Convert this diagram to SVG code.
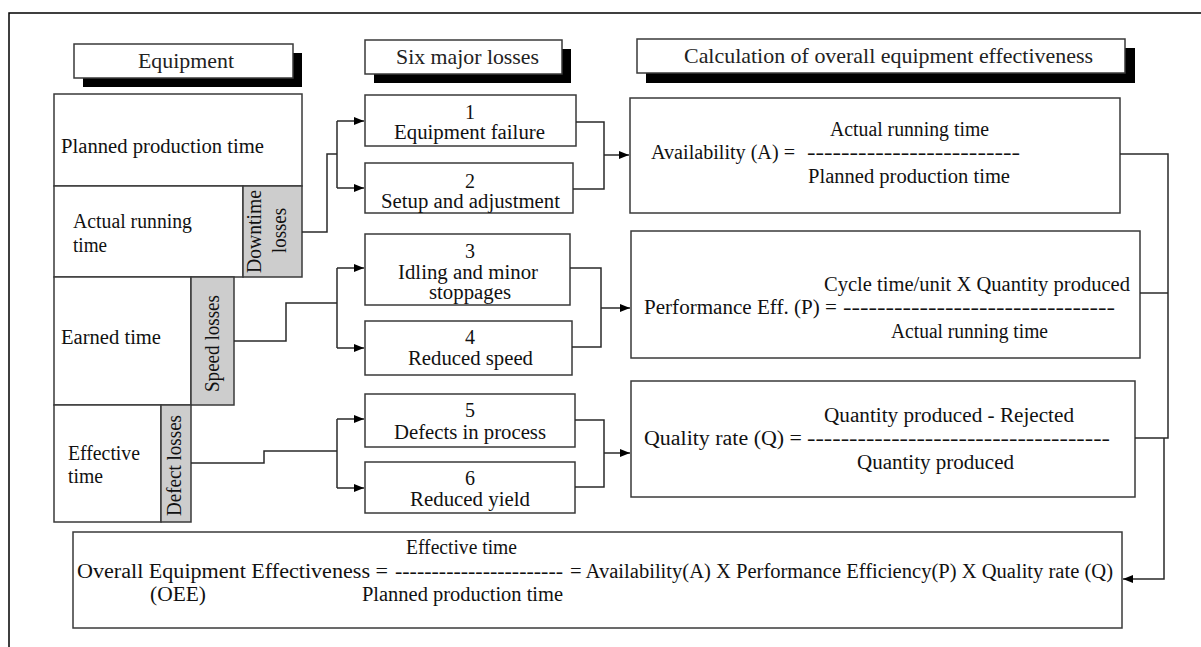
<svg xmlns="http://www.w3.org/2000/svg" width="1201" height="647" viewBox="0 0 1201 647" font-family="'Liberation Serif', 'Times New Roman', serif">
<defs>
<style>
text{font-family:'Liberation Serif','Times New Roman',serif;font-size:20px;fill:#111}
.hd{font-size:21px;fill:#222}
.box{fill:#fff;stroke:#3a3a3a;stroke-width:1.5}
.gray{fill:#cdcdcd;stroke:#3a3a3a;stroke-width:1.5}
.shadow{fill:#000}
.ln{fill:none;stroke:#2a2a2a;stroke-width:1.5}
.c{text-anchor:middle}
</style>
<marker id="arr" viewBox="0 0 10 10" refX="10" refY="5" markerWidth="10" markerHeight="10" markerUnits="userSpaceOnUse" orient="auto">
<path d="M0,1 L10,5 L0,9 Z" fill="#000"/>
</marker>
</defs>
<rect width="1201" height="647" fill="#fff"/>
<path d="M9,647 V13 H1201" fill="none" stroke="#000" stroke-width="1.5"/>

<g id="header-equipment">
<rect class="shadow" x="83" y="53" width="219" height="34"/>
<rect class="box" x="74" y="44" width="219" height="34"/>
<text class="hd" x="138" y="68" textLength="96" lengthAdjust="spacingAndGlyphs">Equipment</text>
</g>
<g id="header-losses">
<rect class="shadow" x="374" y="49" width="197" height="34"/>
<rect class="box" x="365" y="40" width="197" height="34"/>
<text class="hd" x="396" y="64" textLength="143" lengthAdjust="spacingAndGlyphs">Six major losses</text>
</g>
<g id="header-calc">
<rect class="shadow" x="646" y="48" width="489" height="35"/>
<rect class="box" x="637" y="39" width="488" height="34"/>
<text class="hd" x="684" y="63" textLength="409" lengthAdjust="spacingAndGlyphs">Calculation of overall equipment effectiveness</text>
</g>

<g id="planned-production-time">
<rect class="box" x="54" y="94" width="248" height="92"/>
<text x="61" y="153" textLength="203" lengthAdjust="spacingAndGlyphs">Planned production time</text>
</g>
<g id="actual-running-time">
<rect class="box" x="54" y="186" width="189" height="91"/>
<text x="73" y="228" textLength="119" lengthAdjust="spacingAndGlyphs">Actual running</text>
<text x="73" y="252" textLength="34" lengthAdjust="spacingAndGlyphs">time</text>
</g>
<g id="downtime-losses">
<rect class="gray" x="243" y="186" width="59" height="91"/>
<text class="c" transform="translate(261,231.5) rotate(-90)" textLength="83" lengthAdjust="spacingAndGlyphs">Downtime</text>
<text class="c" transform="translate(286,230.5) rotate(-90)" textLength="45" lengthAdjust="spacingAndGlyphs">losses</text>
</g>
<g id="earned-time">
<rect class="box" x="54" y="277" width="137" height="128"/>
<text x="61" y="344" textLength="100" lengthAdjust="spacingAndGlyphs">Earned time</text>
</g>
<g id="speed-losses">
<rect class="gray" x="191" y="277" width="43" height="128"/>
<text class="c" transform="translate(219,343.5) rotate(-90)" textLength="97" lengthAdjust="spacingAndGlyphs">Speed losses</text>
</g>
<g id="effective-time">
<rect class="box" x="54" y="405" width="107" height="117"/>
<text x="68" y="460" textLength="72" lengthAdjust="spacingAndGlyphs">Effective</text>
<text x="68" y="483" textLength="35" lengthAdjust="spacingAndGlyphs">time</text>
</g>
<g id="defect-losses">
<rect class="gray" x="161" y="405" width="30" height="117"/>
<text class="c" transform="translate(181,465.5) rotate(-90)" textLength="101" lengthAdjust="spacingAndGlyphs">Defect losses</text>
</g>

<g id="loss-1">
<rect class="box" x="365" y="95" width="211" height="51"/>
<text class="c" x="470" y="119">1</text>
<text x="394" y="139" textLength="151" lengthAdjust="spacingAndGlyphs">Equipment failure</text>
</g>
<g id="loss-2">
<rect class="box" x="365" y="163" width="208" height="50"/>
<text class="c" x="470" y="188">2</text>
<text x="381" y="208" textLength="179" lengthAdjust="spacingAndGlyphs">Setup and adjustment</text>
</g>
<g id="loss-3">
<rect class="box" x="365" y="234" width="205" height="71"/>
<text class="c" x="470" y="258">3</text>
<text x="398" y="279" textLength="140" lengthAdjust="spacingAndGlyphs">Idling and minor</text>
<text x="429" y="299" textLength="82" lengthAdjust="spacingAndGlyphs">stoppages</text>
</g>
<g id="loss-4">
<rect class="box" x="365" y="321" width="207" height="54"/>
<text class="c" x="470" y="344">4</text>
<text x="408" y="365" textLength="125" lengthAdjust="spacingAndGlyphs">Reduced speed</text>
</g>
<g id="loss-5">
<rect class="box" x="365" y="394" width="210" height="53"/>
<text class="c" x="470" y="417">5</text>
<text x="394" y="439" textLength="152" lengthAdjust="spacingAndGlyphs">Defects in process</text>
</g>
<g id="loss-6">
<rect class="box" x="365" y="462" width="210" height="51"/>
<text class="c" x="470" y="485">6</text>
<text x="410" y="506" textLength="120" lengthAdjust="spacingAndGlyphs">Reduced yield</text>
</g>

<g id="availability">
<rect class="box" x="630" y="98" width="490" height="115"/>
<text x="830" y="136" textLength="159" lengthAdjust="spacingAndGlyphs">Actual running time</text>
<text x="651" y="159" textLength="144" lengthAdjust="spacingAndGlyphs">Availability (A) =</text>
<text x="807" y="159" textLength="213" lengthAdjust="spacingAndGlyphs">-------------------------</text>
<text x="808" y="183" textLength="202" lengthAdjust="spacingAndGlyphs">Planned production time</text>
</g>
<g id="performance">
<rect class="box" x="631" y="231" width="509" height="127"/>
<text x="824" y="291" textLength="306" lengthAdjust="spacingAndGlyphs">Cycle time/unit X Quantity produced</text>
<text x="644" y="314" textLength="193" lengthAdjust="spacingAndGlyphs">Performance Eff. (P) =</text>
<text x="843" y="314" textLength="272" lengthAdjust="spacingAndGlyphs">--------------------------------</text>
<text x="891" y="338" textLength="157" lengthAdjust="spacingAndGlyphs">Actual running time</text>
</g>
<g id="quality">
<rect class="box" x="631" y="381" width="504" height="116"/>
<text x="824" y="422" textLength="250" lengthAdjust="spacingAndGlyphs">Quantity produced - Rejected</text>
<text x="644" y="445" textLength="158" lengthAdjust="spacingAndGlyphs">Quality rate (Q) =</text>
<text x="807" y="445" textLength="303" lengthAdjust="spacingAndGlyphs">------------------------------------</text>
<text x="857" y="469" textLength="157" lengthAdjust="spacingAndGlyphs">Quantity produced</text>
</g>
<g id="oee">
<rect class="box" x="73" y="532" width="1049" height="96"/>
<text x="406" y="554" textLength="111" lengthAdjust="spacingAndGlyphs">Effective time</text>
<text x="77" y="578" textLength="311" lengthAdjust="spacingAndGlyphs">Overall Equipment Effectiveness =</text>
<text x="395" y="578" textLength="168" lengthAdjust="spacingAndGlyphs">-----------------------</text>
<text x="570" y="578" textLength="543" lengthAdjust="spacingAndGlyphs">= Availability(A) X Performance Efficiency(P) X Quality rate (Q)</text>
<text x="150" y="601" textLength="56" lengthAdjust="spacingAndGlyphs">(OEE)</text>
<text x="362" y="601" textLength="201" lengthAdjust="spacingAndGlyphs">Planned production time</text>
</g>

<g id="connectors">
<path class="ln" d="M302,232 H327 V154 H337"/>
<path class="ln" d="M337,121 V188"/>
<path class="ln" d="M337,121 H364" marker-end="url(#arr)"/>
<path class="ln" d="M337,188 H364" marker-end="url(#arr)"/>
<path class="ln" d="M234,341 H286 V303 H337"/>
<path class="ln" d="M337,268 V348"/>
<path class="ln" d="M337,268 H364" marker-end="url(#arr)"/>
<path class="ln" d="M337,348 H364" marker-end="url(#arr)"/>
<path class="ln" d="M191,463 H264 V451 H337"/>
<path class="ln" d="M337,419 V488"/>
<path class="ln" d="M337,419 H364" marker-end="url(#arr)"/>
<path class="ln" d="M337,488 H364" marker-end="url(#arr)"/>
<path class="ln" d="M576,122 H604 V189 H573"/>
<path class="ln" d="M604,155 H629" marker-end="url(#arr)"/>
<path class="ln" d="M570,268 H601 V347 H572"/>
<path class="ln" d="M601,308 H630" marker-end="url(#arr)"/>
<path class="ln" d="M575,420 H604 V487 H575"/>
<path class="ln" d="M604,453 H630" marker-end="url(#arr)"/>
<path class="ln" d="M1120,154 H1168 V438 H1135"/>
<path class="ln" d="M1140,293 H1168"/>
<path class="ln" d="M1164,438 V579 H1123" marker-end="url(#arr)"/>
</g>
</svg>
